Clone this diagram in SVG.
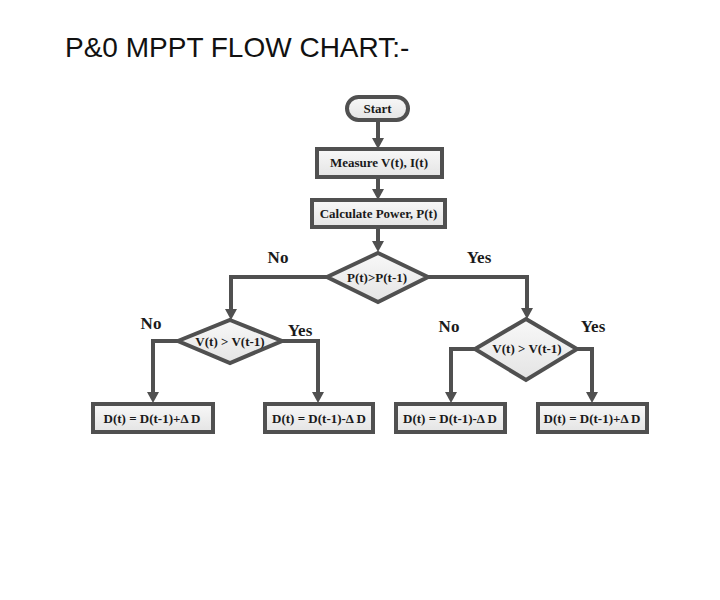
<svg xmlns="http://www.w3.org/2000/svg" width="720" height="600" viewBox="0 0 720 600">
<style>
.node{fill:url(#g);stroke:#505050;stroke-width:4}
.t{font-family:"Liberation Serif","Times New Roman",serif;font-weight:bold;font-size:13px;fill:#1a1a1a;text-anchor:middle}
.lbl{font-family:"Liberation Serif","Times New Roman",serif;font-weight:bold;font-size:17px;fill:#1a1a1a;text-anchor:middle}
.c{fill:none;stroke:#505050;stroke-width:4;stroke-linejoin:miter}
.title{font-family:"Liberation Sans",Arial,sans-serif;font-size:28px;fill:#111}
</style>
<defs>
<linearGradient id="g" x1="0" y1="0" x2="0" y2="1">
<stop offset="0" stop-color="#f8f8f8"/>
<stop offset="1" stop-color="#e4e4e4"/>
</linearGradient>
<marker id="ah" markerUnits="userSpaceOnUse" markerWidth="12" markerHeight="12" refX="5" refY="6" orient="auto" viewBox="0 0 12 12">
<path d="M0,0 L11,6 L0,12 Z" fill="#505050"/>
</marker>
</defs>
<rect width="720" height="600" fill="#fff"/>
<text class="title" x="65" y="57">P&amp;0 MPPT FLOW CHART:-</text>

<g id="connectors">
<path class="c" d="M378,120 L378,143" marker-end="url(#ah)"/>
<path class="c" d="M378,177 L378,194" marker-end="url(#ah)"/>
<path class="c" d="M378,227 L378,246" marker-end="url(#ah)"/>
<path class="c" d="M327,277 L231,277 L231,314" marker-end="url(#ah)"/>
<path class="c" d="M428,277 L527,277 L527,313" marker-end="url(#ah)"/>
<path class="c" d="M178,341 L153,341 L153,397" marker-end="url(#ah)"/>
<path class="c" d="M282,341 L318,341 L318,397" marker-end="url(#ah)"/>
<path class="c" d="M475,349 L451,349 L451,397" marker-end="url(#ah)"/>
<path class="c" d="M577,349 L592,349 L592,397" marker-end="url(#ah)"/>
</g>

<g id="labels">
<text class="lbl" x="278" y="263">No</text>
<text class="lbl" x="479" y="263">Yes</text>
<text class="lbl" x="151" y="329">No</text>
<text class="lbl" x="300" y="336">Yes</text>
<text class="lbl" x="449" y="332">No</text>
<text class="lbl" x="593" y="332">Yes</text>
</g>

<g id="start">
<rect class="node" x="347" y="97" width="61" height="23" rx="11.5"/>
<text class="t" x="377.5" y="113">Start</text>
</g>
<g id="measure">
<rect class="node" x="317" y="149" width="125" height="28"/>
<text class="t" x="379" y="167">Measure V(t), I(t)</text>
</g>
<g id="calculate">
<rect class="node" x="312" y="200" width="133" height="27"/>
<text class="t" x="378.5" y="218">Calculate Power, P(t)</text>
</g>
<g id="decision-power">
<polygon class="node" points="378,253 428,277 378,302 327,277"/>
<text class="t" x="377" y="282">P(t)&gt;P(t-1)</text>
</g>
<g id="decision-v-left">
<polygon class="node" points="230,320 282,341 230,363 178,341"/>
<text class="t" x="230" y="346">V(t) &gt; V(t-1)</text>
</g>
<g id="decision-v-right">
<polygon class="node" points="526,319 577,349 526,380 475,349"/>
<text class="t" x="527" y="353">V(t) &gt; V(t-1)</text>
</g>
<g id="d1">
<rect class="node" x="93" y="404" width="120" height="28"/>
<text class="t" x="152" y="423">D(t) = D(t-1)+Δ D</text>
</g>
<g id="d2">
<rect class="node" x="265" y="404" width="108" height="28"/>
<text class="t" x="319" y="423">D(t) = D(t-1)-Δ D</text>
</g>
<g id="d3">
<rect class="node" x="396" y="404" width="109" height="28"/>
<text class="t" x="450" y="423">D(t) = D(t-1)-Δ D</text>
</g>
<g id="d4">
<rect class="node" x="538" y="404" width="109" height="28"/>
<text class="t" x="592" y="423">D(t) = D(t-1)+Δ D</text>
</g>
</svg>
